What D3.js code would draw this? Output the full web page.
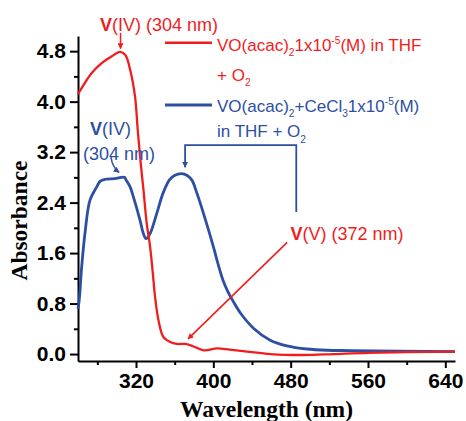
<!DOCTYPE html>
<meta charset="utf-8">
<script src="https://d3js.org/d3.v7.js"></script>
<style>
  body { margin: 0; background: #fff; }
  text { font-family: "Liberation Sans", Arial, sans-serif; }
</style>
<svg id="chart" width="466" height="421"></svg>
<script>

// ---- data ----
const redWavelength = [260, 266, 274, 284.5, 295, 303.5, 309, 314, 319, 321.8, 324.9, 327.6, 331.1, 334.6, 337.4, 339.7, 343.2, 348.3, 355.3, 362, 371, 378, 390, 404, 417, 435, 459, 493, 524, 559, 650];
const redAbs        = [4.12, 4.27, 4.45, 4.61, 4.72, 4.79, 4.74, 4.50, 4.08, 3.55, 3.02, 2.62, 2.07, 1.70, 1.28, 0.91, 0.54, 0.27, 0.19, 0.16, 0.16, 0.13, 0.06, 0.09, 0.07, 0.04, 0.00, -0.015, 0.00, 0.02, 0.04];

const blueWavelength = [260, 261.3, 263.8, 267.2, 272.4, 279.4, 283, 288, 298, 308, 309.7, 313.9, 317.3, 324.2, 327.6, 330.4, 334.6, 341.5, 348, 354.6, 359.8, 367, 373, 377.7, 383, 389.8, 400.1, 405, 410, 415, 420, 428, 441.5, 458.8, 476.1, 496.9, 517.6, 541.7, 650];
const blueAbs        = [0.72, 0.86, 1.38, 1.91, 2.44, 2.65, 2.74, 2.77, 2.78, 2.80, 2.76, 2.65, 2.49, 2.12, 1.91, 1.83, 1.91, 2.23, 2.55, 2.76, 2.83, 2.86, 2.83, 2.76, 2.55, 2.23, 1.70, 1.42, 1.17, 0.99, 0.85, 0.65, 0.41, 0.22, 0.13, 0.08, 0.06, 0.055, 0.04];

const xMajorTicks = [320, 400, 480, 560, 640];
const xMinorTicks = [280, 360, 440, 520, 600];
const yMajorTicks = [0.0, 0.8, 1.6, 2.4, 3.2, 4.0, 4.8];
const yMinorTicks = [0.4, 1.2, 2.0, 2.8, 3.6, 4.4];

const red = "#f01d1d";
const blue = "#2c4fa3";

const svg = d3.select("#chart");

const x = d3.scaleLinear().domain([260, 650]).range([78, 455]);
const y = d3.scaleLinear().domain([-0.11, 5.04]).range([361, 36]);

// arrow markers
const defs = svg.append("defs");
[["arrRed", red], ["arrBlue", blue]].forEach(([id, c]) => {
  defs.append("marker")
    .attr("id", id)
    .attr("viewBox", "0 0 10 10")
    .attr("refX", 9).attr("refY", 5)
    .attr("markerWidth", 6).attr("markerHeight", 6)
    .attr("markerUnits", "userSpaceOnUse")
    .attr("orient", "auto")
    .append("path")
      .attr("d", "M0,0 L10,5 L0,10 Z")
      .attr("fill", c);
});

// ---- axes ----
svg.append("g")
  .attr("transform", `translate(${x.range()[0]},0)`)
  .call(d3.axisLeft(y).tickValues(yMajorTicks).tickFormat(d3.format(".1f"))
    .tickSize(8).tickSizeOuter(0).tickPadding(4));
svg.append("g")
  .attr("transform", `translate(${x.range()[0]},0)`)
  .call(d3.axisLeft(y).tickValues(yMinorTicks).tickFormat("").tickSize(4).tickSizeOuter(0))
  .select(".domain").remove();

svg.append("g")
  .attr("transform", `translate(0,${y.range()[0]})`)
  .call(d3.axisBottom(x).tickValues(xMajorTicks).tickSize(7).tickSizeOuter(0).tickPadding(5));
svg.append("g")
  .attr("transform", `translate(0,${y.range()[0]})`)
  .call(d3.axisBottom(x).tickValues(xMinorTicks).tickFormat("").tickSize(4).tickSizeOuter(0))
  .select(".domain").remove();

svg.selectAll(".domain, .tick line")
  .attr("stroke", "#000")
  .attr("stroke-width", 2);
svg.selectAll(".tick text")
  .attr("fill", "#000")
  .style("font-family", "'Liberation Sans', Arial, sans-serif")
  .style("font-weight", "bold")
  .style("font-size", "21px");

// axis titles
svg.append("text")
  .attr("transform", `translate(27,${(y.range()[0] + y.range()[1]) / 2 + 22}) rotate(-90)`)
  .attr("text-anchor", "middle")
  .style("font-family", "'Liberation Serif', 'Times New Roman', serif")
  .style("font-weight", "bold")
  .style("font-size", "23.5px")
  .text("Absorbance");

svg.append("text")
  .attr("x", (x.range()[0] + x.range()[1]) / 2)
  .attr("y", 417)
  .attr("text-anchor", "middle")
  .style("font-family", "'Liberation Serif', 'Times New Roman', serif")
  .style("font-weight", "bold")
  .style("font-size", "23.5px")
  .text("Wavelength (nm)");

// ---- curves ----
const line = d3.line()
  .x(d => x(d[0]))
  .y(d => y(d[1]))
  .curve(d3.curveCatmullRom.alpha(0.5));

svg.append("path")
  .datum(d3.zip(blueWavelength, blueAbs))
  .attr("fill", "none")
  .attr("stroke", blue)
  .attr("stroke-width", 2.8)
  .attr("d", line);

svg.append("path")
  .datum(d3.zip(redWavelength, redAbs))
  .attr("fill", "none")
  .attr("stroke", red)
  .attr("stroke-width", 2.3)
  .attr("d", line);

// ---- rich text helper (sub / sup / bold parts) ----
function richText(px, py, parts, color, size) {
  const t = svg.append("text")
    .attr("x", px).attr("y", py)
    .attr("fill", color)
    .style("font-size", size + "px");
  let shift = 0;
  parts.forEach(([str, kind]) => {
    let target = 0;
    if (kind === "sub") target = size * 0.32;
    if (kind === "sup") target = -size * 0.4;
    const ts = t.append("tspan")
      .attr("dy", target - shift)
      .text(str);
    shift = target;
    if (kind === "sub" || kind === "sup") ts.style("font-size", (size * 0.6) + "px");
    if (kind === "b") ts.style("font-weight", "bold");
  });
  return t;
}

// ---- legend ----
const legendX = 165, legendLen = 47, legendTextX = 217;
svg.append("line")
  .attr("x1", legendX).attr("x2", legendX + legendLen)
  .attr("y1", 42.7).attr("y2", 42.7)
  .attr("stroke", red).attr("stroke-width", 2.5);
richText(legendTextX, 50.7, [["VO(acac)"], ["2", "sub"], ["1x10"], ["-5", "sup"], ["(M) in THF"]], red, 17);
richText(legendTextX, 81, [["+ O"], ["2", "sub"]], red, 17);

svg.append("line")
  .attr("x1", legendX).attr("x2", legendX + legendLen)
  .attr("y1", 105).attr("y2", 105)
  .attr("stroke", blue).attr("stroke-width", 2.8);
richText(legendTextX, 111.7, [["VO(acac)"], ["2", "sub"], ["+CeCl"], ["3", "sub"], ["1x10"], ["-5", "sup"], ["(M)"]], blue, 17);
richText(legendTextX, 137.3, [["in THF + O"], ["2", "sub"]], blue, 17);

// ---- annotations ----
// red V(IV) peak
richText(x(282.8), y(5.12), [["V", "b"], ["(IV) (304 nm)"]], red, 18);
svg.append("line")
  .attr("x1", x(304)).attr("x2", x(304))
  .attr("y1", y(5.09)).attr("y2", y(4.84))
  .attr("stroke", red).attr("stroke-width", 1.5)
  .attr("marker-end", "url(#arrRed)");

// blue V(IV) shoulder
richText(x(272.4), y(3.47), [["V", "b"], ["(IV)"]], blue, 18);
richText(x(265.2), y(3.07), [["(304 nm)"]], blue, 18);
svg.append("path")
  .attr("d", `M${x(294.1)},${y(3.12)} Q${x(295.5)},${y(2.96)} ${x(302.5)},${y(2.88)}`)
  .attr("fill", "none")
  .attr("stroke", blue).attr("stroke-width", 1.5)
  .attr("marker-end", "url(#arrBlue)");

// blue bracket to 372 nm band
svg.append("path")
  .attr("d", `M${x(485.8)},${y(2.25)} L${x(485.8)},${y(3.31)} L${x(370.8)},${y(3.31)} L${x(370.8)},${y(2.96)}`)
  .attr("fill", "none")
  .attr("stroke", blue).attr("stroke-width", 1.8)
  .attr("marker-end", "url(#arrBlue)");

// red V(V)
richText(x(479.9), y(1.81), [["V", "b"], ["(V) (372 nm)"]], red, 18);
svg.append("line")
  .attr("x1", x(476.4)).attr("y1", y(1.77))
  .attr("x2", x(373.9)).attr("y2", y(0.24))
  .attr("stroke", red).attr("stroke-width", 1.6)
  .attr("marker-end", "url(#arrRed)");

</script>
